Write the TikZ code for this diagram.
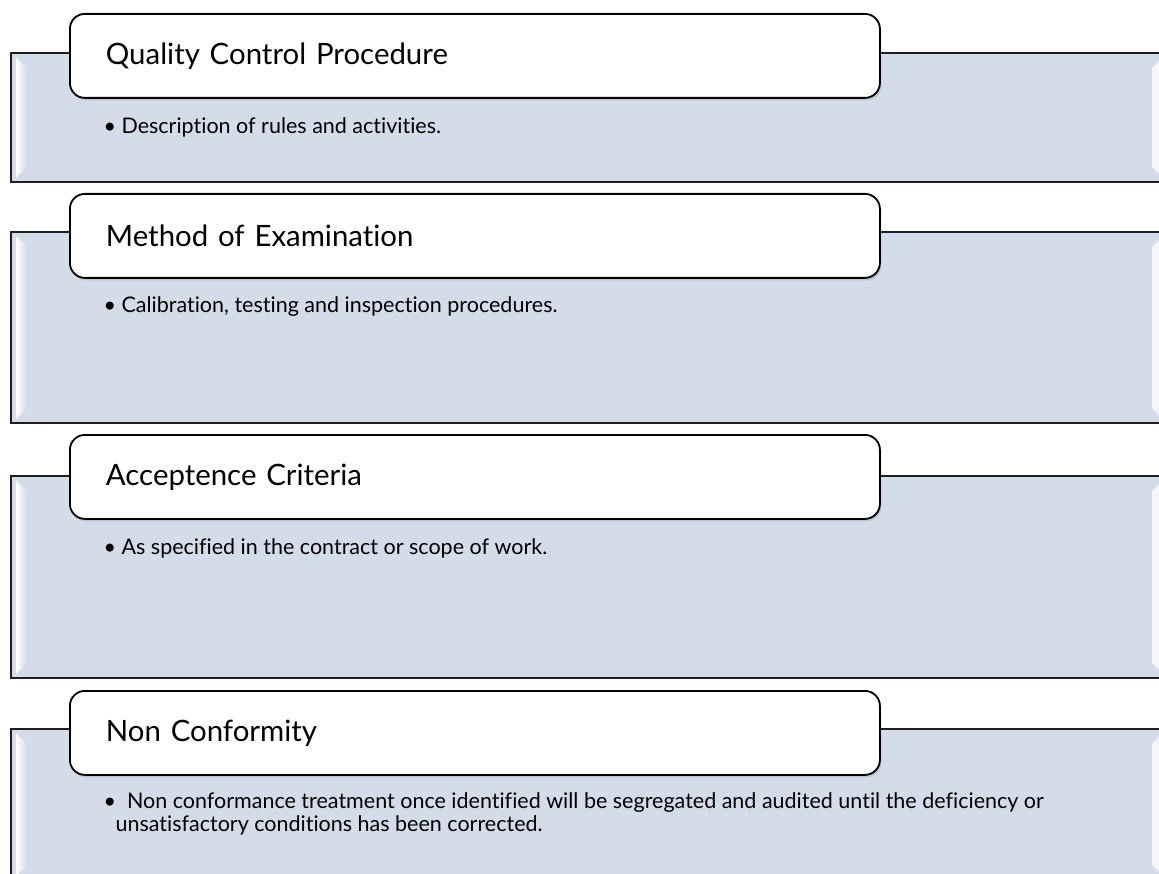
\documentclass[tikz,border=0pt]{standalone}
\usepackage{fontspec}
\setmainfont[Ligatures=NoCommon]{Lato}
\usetikzlibrary{positioning, shadows}
\definecolor{bandfill}{HTML}{D4DBE9}
\definecolor{bandline}{HTML}{1E1E1E}
\tikzset{
  every picture/.style={line width=1.2pt},
  band/.style={draw=bandline, fill=bandfill, line width=1.5pt},
  bevel/.style={left color=white, right color=bandfill, draw=none},
  rbevel/.style={fill=white!75!bandfill, draw=none},
  title/.style={draw=black, fill=white, rounded corners=15pt, line width=1.8pt,
    minimum width=810pt, minimum height=84pt, text width=738pt, inner xsep=36pt,
    align=left, anchor=north west, font=\fontsize{29.4}{34}\selectfont,
    drop shadow={opacity=0.25, shadow xshift=1.5pt, shadow yshift=-2.5pt}},
  point/.style={anchor=west, align=left, inner sep=0pt, font=\fontsize{21.5}{22.5}\selectfont},
}
\newcommand{\qcband}[2]{% top, bottom
  \draw[band] (11,#1) rectangle (1164,#2);
  \shade[bevel] (16,#1+4) -- (27,#1+15) -- (27,#2-15) -- (16,#2-4) -- cycle;
  \fill[rbevel] (1152,#1+15) -- (1159,#1+8) -- (1159,#2-8) -- (1152,#2-15) -- cycle;
}
\begin{document}
\begin{tikzpicture}[x=1pt, y=-1pt]
  \useasboundingbox (0,0) rectangle (1159,874);
  \clip (0,0) rectangle (1159,874);
  \fill[white] (0,0) rectangle (1159,874);

  % bands
  \qcband{53}{182}
  \qcband{232}{423}
  \qcband{476}{678}
  \qcband{729}{880}

  % titles
  \node[title] (qcp) at (69,13)  {Quality Control Procedure};
  \node[title] (moe) at (69,193) {Method of Examination};
  \node[title] (acc) at (69,434) {Acceptence Criteria};
  \node[title] (ncf) at (69,690) {Non Conformity};

  % points
  \node[point] (qcpt) at (103,127) {\textbullet\ Description of rules and activities.};
  \node[point] (moet) at (103,307) {\textbullet\ Calibration, testing and inspection procedures.};
  \node[point] (acct) at (103,548) {\textbullet\ As specified in the contract or scope of work.};
  \node[point] (ncft) at (103,814) {\textbullet\ \ Non conformance treatment once identified will be segregated and audited until the deficiency or\\
    \hspace*{12pt}unsatisfactory conditions has been corrected.};
\end{tikzpicture}
\end{document}
